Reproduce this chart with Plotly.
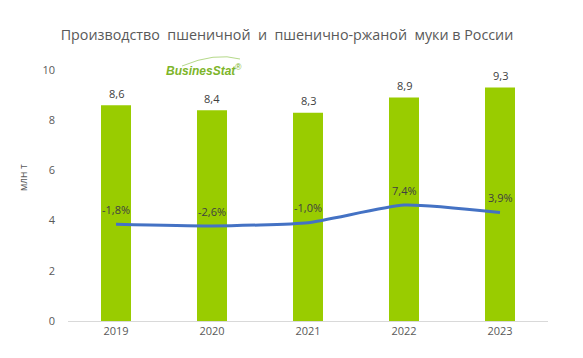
import plotly.graph_objects as go

years = ["2019", "2020", "2021", "2022", "2023"]
production = [8.6, 8.4, 8.3, 8.9, 9.3]
growth = [-1.8, -2.6, -1.0, 7.4, 3.9]
prod_labels = ["8,6", "8,4", "8,3", "8,9", "9,3"]
growth_labels = ["-1,8%", "-2,6%", "-1,0%", "7,4%", "3,9%"]

# page body has an 8px default margin; work in figure pixel coords
OFF = 8
W, H = 583 - OFF, 358 - OFF
L, T = 68 - OFF, 70 - OFF
R = W - (548 - OFF)
B = H - (321 - OFF)
PW, PH = W - L - R, H - T - B
FONT = "Open Sans"


def px(xp):
    return ((xp - OFF) - L) / PW


def py(yp):
    return (H - B - (yp - OFF)) / PH


fig = go.Figure()
fig.add_trace(go.Bar(x=years, y=production, marker=dict(color="#99CC00", line=dict(width=0)),
                     hoverinfo="skip", showlegend=False))
fig.add_trace(go.Scatter(x=years, y=growth, mode="lines", yaxis="y2",
                         line=dict(color="#4472C4", width=3, shape="spline", smoothing=0.5),
                         hoverinfo="skip", showlegend=False))

ann = []
for i, (v, t) in enumerate(zip(production, prod_labels)):
    ann.append(dict(x=i, y=v, xref="x", yref="y", text=t, showarrow=False,
                    yanchor="middle", yshift=12, font=dict(size=11, color="#404040", family=FONT)))
for i, (v, t) in enumerate(zip(growth, growth_labels)):
    ann.append(dict(x=i, y=v, xref="x", yref="y2", text=t, showarrow=False,
                    yanchor="middle", yshift=15, font=dict(size=11, color="#404040", family=FONT)))
# axis title
ann.append(dict(x=px(23), y=py(178), xref="paper", yref="paper", text="млн т",
                textangle=-90, showarrow=False, xanchor="center", yanchor="middle",
                font=dict(size=10, color="#595959", family=FONT)))
# logo
ann.append(dict(x=px(204), y=py(70), xref="paper", yref="paper",
                text="<b><i>BusinesStat</i></b><sup>®</sup>", showarrow=False,
                xanchor="center", yanchor="middle",
                font=dict(size=12, color="#7DB52A", family="Liberation Sans Narrow, Liberation Sans")))

fig.update_layout(
    width=W, height=H,
    margin=dict(l=L, r=R, t=T, b=B),
    paper_bgcolor="white", plot_bgcolor="white",
    bargap=0.6875,
    title=dict(text="Производство  пшеничной  и  пшенично-ржаной  муки в России",
               x=(287 - OFF) / W, xanchor="center", y=1 - (35 - OFF) / H, yanchor="middle",
               yref="container",
               font=dict(size=14.3, color="#595959", family=FONT)),
    xaxis=dict(type="category", range=[-0.5, len(years) - 0.5], autorange=False,
               showgrid=False, showline=True, linecolor="#D9D9D9", linewidth=1,
               ticks="", tickfont=dict(size=11, color="#595959", family=FONT), fixedrange=True),
    yaxis=dict(range=[0, 10], dtick=2, showgrid=False, zeroline=False, showline=False,
               tickfont=dict(size=11, color="#595959", family=FONT), ticklabelstandoff=12),
    yaxis2=dict(range=[-48, 72], overlaying="y", side="right", visible=False),
    annotations=ann,
    shapes=[dict(type="path", xref="paper", yref="paper",
                 path="M {a},{b} Q {c},{d} {e},{f}".format(
                     a=px(182), b=py(66), c=px(215), d=py(52), e=px(240), f=py(59)),
                 line=dict(color="#B5D98A", width=1))],
)

fig.write_html("out.html")
